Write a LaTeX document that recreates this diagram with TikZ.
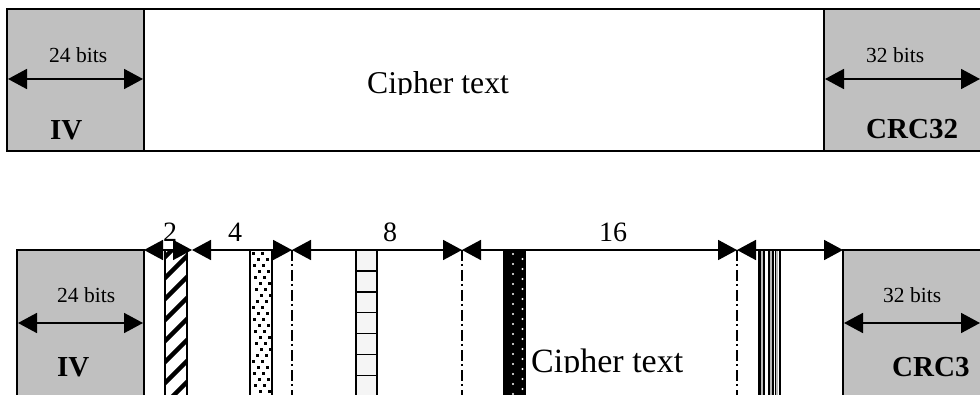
\documentclass[tikz,border=0pt]{standalone}
\usepackage{fontspec}
\setmainfont{Liberation Serif}
\usetikzlibrary{arrows.meta}
\definecolor{fieldgray}{RGB}{192,192,192}
\tikzset{
  field/.style={fill=fieldgray, draw=black, line width=2pt},
  frame/.style={draw=black, line width=2pt},
  dim/.style={line width=1.8pt,
    {Triangle[length=19pt,width=20pt]}-{Triangle[length=19pt,width=20pt]}},
  sepline/.style={line width=1.4pt, dash pattern=on 11pt off 3pt on 2pt off 4pt},
  bitsize/.style={font=\fontsize{21.5}{24}\selectfont, inner sep=0pt, anchor=base west},
  fieldname/.style={font=\fontsize{29}{32}\selectfont\bfseries, inner sep=0pt, anchor=base west},
  count/.style={font=\fontsize{28}{30}\selectfont, inner sep=0pt, anchor=base},
  stripe/.style={draw=black, line width=1.6pt},
}
\begin{document}
\begin{tikzpicture}[x=1pt,y=-1pt]
\useasboundingbox (0,0) rectangle (980,395);
\clip (0,0) rectangle (980,395);

% ---------- plain frame: IV | cipher text | CRC32 ----------
\draw[frame] (7,9) rectangle (995,151);
\draw[field] (7,9) rectangle (144,151);
\draw[field] (824,9) rectangle (995,151);

\coordinate (ivAL) at (8,79);   \coordinate (ivAR) at (143,79);
\coordinate (crcAL) at (825,79); \coordinate (crcAR) at (980,79);
\draw[dim] (ivAL) -- (ivAR);
\draw[dim] (crcAL) -- (crcAR);

\node[bitsize] (ivBitsA) at (49,63) {24 bits};
\node[fieldname] (ivNameA) at (50,140) {IV};
\node[bitsize] (crcBitsA) at (866,63) {32 bits};
\node[fieldname] (crcNameA) at (866,139) {CRC32};

\begin{scope}
  \clip (300,60) rectangle (600,94.5);
  \node[font=\fontsize{31.7}{34}\selectfont, inner sep=0pt, anchor=base west]
    (cipherA) at (367,94) {Cipher text};
\end{scope}

% ---------- frame split into marked blocks ----------
\draw[field] (17,250) rectangle (144,400);
\draw[field] (843,250) rectangle (995,400);

% diagonal hatch block
\begin{scope}
  \clip (165,250) rectangle (187,400);
  \foreach \k in {-1,...,8}
    \draw[line width=4.5pt] (160,{262+21*\k}) -- (192,{230+21*\k});
\end{scope}
\draw[stripe] (165,250) rectangle (187,400);

% speckled block
\begin{scope}
  \clip (250,250) rectangle (272,400);
  \foreach \r in {0,...,25}{
    \pgfmathsetmacro\xo{mod(\r*5,9)}
    \foreach \c in {0,1}
      \fill ({252+\xo+9*\c},{252+6*\r}) rectangle ++(3.4,3.4);
  }
\end{scope}
\draw[stripe] (250,250) rectangle (272,400);

% ladder block
\draw[stripe, fill=gray!8] (356,250) rectangle (377,400);
\foreach \k in {1,...,7}
  \draw[line width=1.6pt] (356,{250+20.9*\k}) -- (377,{250+20.9*\k});

% black block with white dots
\fill[black] (503,250) rectangle (526,400);
\foreach \r in {0,...,15}{
  \fill[white] (513,{254+10*\r}) circle (1.1pt);
  \fill[white] (522.5,{259+10*\r}) circle (1.1pt);
}

% vertical-line block
\fill[white] (758,250) rectangle (781,400);
\fill[gray!55] (760.7,250) rectangle (763.3,400);
\fill[gray!55] (769.7,250) rectangle (772.2,400);
\fill[gray!55] (776.2,250) rectangle (778.4,400);
\foreach \xx/\w in {759.4/2.2, 764.3/2, 768.7/2, 773.1/2, 775.4/1.2, 779.6/2.2}
  \draw[line width=\w pt] (\xx,250) -- (\xx,400);

% block boundaries
\coordinate (b0) at (144,250);
\coordinate (b1) at (192,250);
\coordinate (b2) at (292,250);
\coordinate (b3) at (462,250);
\coordinate (b4) at (737,250);
\coordinate (b5) at (843,250);
\foreach \c in {b2,b3,b4}
  \draw[sepline] (\c) -- ++(0,150);

\draw[dim] (b0) -- (b1);
\draw[dim] (b1) -- (b2);
\draw[dim] (b2) -- (b3);
\draw[dim] (b3) -- (b4);
\draw[dim] (b4) -- (b5);

\node[count] (n2) at (170,242) {2};
\node[count] (n4) at (235,242) {4};
\node[count] (n8) at (390,242) {8};
\node[count] (n16) at (613,242) {16};

\coordinate (ivBL) at (18,323);  \coordinate (ivBR) at (143,323);
\coordinate (crcBL) at (844,323); \coordinate (crcBR) at (980,323);
\draw[dim] (ivBL) -- (ivBR);
\draw[dim] (crcBL) -- (crcBR);

\node[bitsize] (ivBitsB) at (57,303) {24 bits};
\node[fieldname] (ivNameB) at (57,376) {IV};
\node[bitsize] (crcBitsB) at (883,303) {32 bits};
\node[fieldname] (crcNameB) at (892,377) {CRC3};

\begin{scope}
  \clip (520,330) rectangle (720,372.5);
  \node[font=\fontsize{34}{36}\selectfont, inner sep=0pt, anchor=base west]
    (cipherB) at (531,372) {Cipher text};
\end{scope}
\end{tikzpicture}
\end{document}
